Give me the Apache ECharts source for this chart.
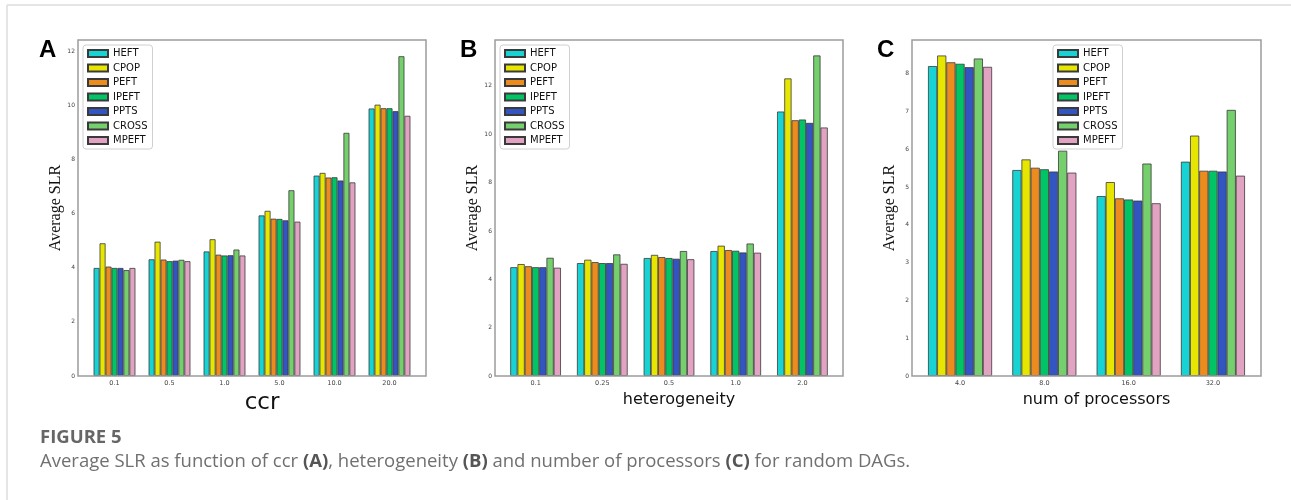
<!DOCTYPE html>
<html>
<head>
<meta charset="utf-8">
<script src="https://cdn.jsdelivr.net/npm/echarts@6/dist/echarts.min.js"></script>
<style>
  html, body { margin: 0; padding: 0; background: #ffffff; }
  #main { width: 1291px; height: 500px; }
</style>
</head>
<body>
<div id="main"></div>
<script>
// algorithms (legend order)
var algorithms = ["HEFT", "CPOP", "PEFT", "IPEFT", "PPTS", "CROSS", "MPEFT"];
var colors = ["#17d3d3", "#e6e600", "#ec8c1f", "#00c466", "#3355c2", "#74cf6c", "#e2a3c3"];

// (A) ccr
var ccrCats = ["0.1", "0.5", "1.0", "5.0", "10.0", "20.0"];
var ccrValues = [
  [3.99, 4.31, 4.60, 5.93, 7.40, 9.88],   // HEFT
  [4.90, 4.96, 5.05, 6.10, 7.50, 10.02],  // CPOP
  [4.04, 4.30, 4.48, 5.81, 7.33, 9.89],   // PEFT
  [3.99, 4.24, 4.45, 5.80, 7.34, 9.89],   // IPEFT
  [3.99, 4.26, 4.46, 5.75, 7.22, 9.78],   // PPTS
  [3.91, 4.29, 4.67, 6.86, 8.98, 11.81],  // CROSS
  [3.99, 4.24, 4.45, 5.70, 7.15, 9.61]    // MPEFT
];
var ccrTicks = [0, 2, 4, 6, 8, 10, 12];

// (B) heterogeneity
var hetCats = ["0.1", "0.25", "0.5", "1.0", "2.0"];
var hetValues = [
  [4.50, 4.67, 4.88, 5.17, 10.94],
  [4.63, 4.81, 5.01, 5.39, 12.31],
  [4.54, 4.71, 4.92, 5.21, 10.58],
  [4.50, 4.67, 4.88, 5.18, 10.61],
  [4.50, 4.67, 4.85, 5.11, 10.47],
  [4.89, 5.03, 5.17, 5.48, 13.26],
  [4.48, 4.64, 4.83, 5.10, 10.28]
];
var hetTicks = [0, 2, 4, 6, 8, 10, 12];

// (C) num of processors
var procCats = ["4.0", "8.0", "16.0", "32.0"];
var procValues = [
  [8.20, 5.45, 4.76, 5.67],
  [8.48, 5.73, 5.13, 6.36],
  [8.30, 5.51, 4.70, 5.43],
  [8.26, 5.47, 4.67, 5.43],
  [8.17, 5.41, 4.64, 5.41],
  [8.40, 5.96, 5.62, 7.04],
  [8.18, 5.38, 4.57, 5.30]
];
var procTicks = [0, 1, 2, 3, 4, 5, 6, 7, 8];

// layout of the three panels
var frameTop = 40, frameH = 336;
var panels = [
  { letter: "A", cats: ccrCats, vals: ccrValues, ticks: ccrTicks, max: 12.41, xname: "ccr", nameSize: 23, nameGap: 5,
    L: 78, R: 426, spacing: 55, legendLeft: 83, letterX: 39 },
  { letter: "B", cats: hetCats, vals: hetValues, ticks: hetTicks, max: 13.9, xname: "heterogeneity", nameSize: 16, nameGap: 8,
    L: 495, R: 843, spacing: 66.7, legendLeft: 500, letterX: 460 },
  { letter: "C", cats: procCats, vals: procValues, ticks: procTicks, max: 8.89, xname: "num of processors", nameSize: 16, nameGap: 8,
    L: 912, R: 1261, spacing: 84.3, legendLeft: 1053, letterX: 877 }
];

var grids = [], xAxes = [], yAxes = [], series = [], legends = [], graphics = [];

panels.forEach(function (p, k) {
  var w = p.cats.length * p.spacing;
  var inset = ((p.R - p.L) - w) / 2;
  grids.push({ left: p.L + inset, top: frameTop, width: w, height: frameH });
  xAxes.push({
    type: "category",
    gridIndex: k,
    data: p.cats,
    axisLine: { show: false },
    axisTick: { alignWithLabel: true, length: 3, lineStyle: { color: "#555" } },
    axisLabel: { fontSize: 6.5, color: "#444", margin: 4, fontFamily: "DejaVu Sans" },
    name: p.xname,
    nameLocation: "middle",
    nameGap: p.nameGap,
    nameTextStyle: { fontFamily: "DejaVu Sans", fontSize: p.nameSize, color: "#111", padding: [0, 0, 0, 20] }
  });
  yAxes.push({
    type: "value",
    gridIndex: k,
    min: 0,
    max: p.max,
    offset: inset,
    axisLine: { show: false },
    splitLine: { show: false },
    axisTick: { length: 3, customValues: p.ticks, lineStyle: { color: "#555" } },
    axisLabel: { customValues: p.ticks, fontSize: 6, color: "#444", margin: 3, fontFamily: "DejaVu Sans" },
    name: "Average SLR",
    nameLocation: "middle",
    nameRotate: 90,
    nameGap: 14,
    nameTextStyle: { fontFamily: "Liberation Serif", fontSize: 16, color: "#111" }
  });
  algorithms.forEach(function (a, i) {
    series.push({
      type: "bar",
      name: a,
      xAxisIndex: k,
      yAxisIndex: k,
      data: p.vals[i],
      barGap: "0%",
      barCategoryGap: "24%",
      itemStyle: { color: colors[i], borderColor: "#3a3a3a", borderWidth: 0.8 }
    });
  });
  legends.push({
    data: algorithms,
    orient: "vertical",
    left: p.legendLeft,
    top: 45,
    icon: "rect",
    itemWidth: 20,
    itemHeight: 7,
    itemGap: 3.5,
    padding: [3, 5, 3, 4],
    borderColor: "#d0d0d0",
    borderWidth: 1,
    borderRadius: 3,
    selectedMode: false,
    textStyle: { fontSize: 10, lineHeight: 11, fontFamily: "DejaVu Sans", color: "#111" }
  });
  // plot frame
  graphics.push({
    type: "rect",
    z: 10,
    shape: { x: p.L, y: frameTop, width: p.R - p.L, height: frameH },
    style: { fill: "none", stroke: "#9c9c9c", lineWidth: 1.5 }
  });
  // panel letter
  graphics.push({
    type: "text",
    x: p.letterX,
    y: 50,
    style: { text: p.letter, fontSize: 24, fontWeight: "bold", fontFamily: "Liberation Sans", fill: "#000", verticalAlign: "middle" }
  });
});

// page border lines
graphics.push({ type: "line", shape: { x1: 7, y1: 5, x2: 1291, y2: 5 }, style: { stroke: "#dcdcdc", lineWidth: 1.5 } });
graphics.push({ type: "line", shape: { x1: 7, y1: 5, x2: 7, y2: 500 }, style: { stroke: "#dcdcdc", lineWidth: 1.5 } });

// caption
graphics.push({
  type: "text", x: 40, y: 438,
  style: { text: "FIGURE 5", fontSize: 18.5, fontWeight: "bold", fontFamily: "Open Sans", fill: "#666", verticalAlign: "middle" }
});
graphics.push({
  type: "text", x: 40, y: 462,
  style: {
    text: "Average SLR as function of ccr {b|(A)}, heterogeneity {b|(B)} and number of processors {b|(C)} for random DAGs.",
    fontSize: 18.5, fontFamily: "Open Sans", fill: "#707070", verticalAlign: "middle",
    rich: { b: { fontSize: 18.5, fontFamily: "Open Sans", fontWeight: "bold", fill: "#555" } }
  }
});

var myChart = echarts.init(document.getElementById("main"));
myChart.setOption({
  backgroundColor: "#ffffff",
  animation: false,
  grid: grids,
  xAxis: xAxes,
  yAxis: yAxes,
  legend: legends,
  series: series,
  graphic: graphics
});
</script>
</body>
</html>
